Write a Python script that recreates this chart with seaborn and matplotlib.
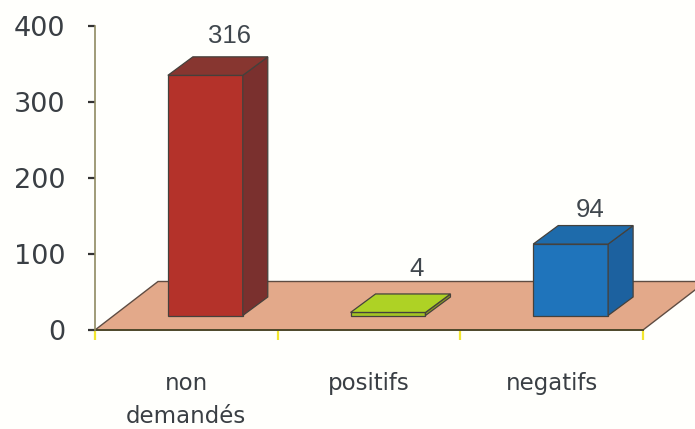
import matplotlib
matplotlib.use("Agg")
import matplotlib.pyplot as plt
from matplotlib.patches import Polygon
import seaborn as sns

categories = ["non\ndemandés", "positifs", "negatifs"]
values = [316, 4, 94]
y_ticks = [0, 100, 200, 300, 400]

front_colors = ["#b4322a", "#a4c424", "#1f74bb"]
side_colors = ["#7a302e", "#8a9c22", "#1c619f"]
top_colors = ["#873630", "#aed225", "#1e6bab"]
floor_color = "#e3a98a"
edge_color = "#45413c"
label_gaps = [14, 18, 9]
label_nudges = [-1, 4, -6]

sns.set_theme(style="white")
plt.rcParams["font.family"] = ["DejaVu Sans"]

W, H = 695, 429
fig = plt.figure(figsize=(W / 100, H / 100), dpi=100, facecolor="#fffffc")
# axes span: x 95..643 px, y 26..330 px from the top
ax = fig.add_axes([95 / W, 1 - 330 / H, 548 / W, 304 / H], facecolor="none")

sns.barplot(x=list(range(3)), y=values, hue=list(range(3)), palette=front_colors,
            width=0.41, legend=False, ax=ax, zorder=3,
            edgecolor=edge_color, linewidth=0.9, saturation=1)
bars = sorted(ax.patches, key=lambda p: p.get_x())
ax.set_xlim(-0.5, 2.5)
ax.set_ylim(0, 400)

# pixel sizes converted to data units for the oblique projection
px_x = 3 / 548
px_y = 400 / 304
shift_x, shift_y = 19 * px_x, 14.5 * px_y
depth_x, depth_y = 25 * px_x, 18.5 * px_y
floor_x, floor_y = 63 * px_x, 48.5 * px_y

ax.add_patch(Polygon([(-0.5, 0), (2.5, 0), (2.5 + floor_x, floor_y), (-0.5 + floor_x, floor_y)],
                     facecolor=floor_color, edgecolor="#5f4c42", linewidth=1.0,
                     zorder=1, clip_on=False))

for bar, value, side, top, gap, nudge in zip(bars, values, side_colors, top_colors, label_gaps, label_nudges):
    bar.set_x(bar.get_x() + shift_x)
    bar.set_y(shift_y)
    x0, x1 = bar.get_x(), bar.get_x() + bar.get_width()
    y0, y1 = shift_y, shift_y + value
    ax.add_patch(Polygon([(x1, y0), (x1 + depth_x, y0 + depth_y), (x1 + depth_x, y1 + depth_y), (x1, y1)],
                         facecolor=side, edgecolor=edge_color, linewidth=0.9, zorder=3, clip_on=False))
    ax.add_patch(Polygon([(x0, y1), (x1, y1), (x1 + depth_x, y1 + depth_y), (x0 + depth_x, y1 + depth_y)],
                         facecolor=top, edgecolor=edge_color, linewidth=0.9, zorder=3, clip_on=False))
    ax.text((x0 + x1) / 2 + depth_x + nudge * px_x, y1 + depth_y + gap * px_y, str(value),
            ha="center", va="baseline", fontsize=18.5, color="#40474d",
            family="Liberation Sans", zorder=5)

sns.despine(ax=ax)
ax.spines["left"].set_color("#8f8a62")
ax.spines["left"].set_linewidth(1.2)
ax.spines["bottom"].set_color("#4f4a2c")
ax.spines["bottom"].set_linewidth(1.4)
ax.spines["bottom"].set_zorder(2)

ax.set_yticks(y_ticks)
ax.tick_params(axis="y", left=True, length=5, width=1.6, color="#333333",
               pad=16.5, labelsize=19.5, labelcolor="#3a3f44")
ax.set_xticks([-0.5, 0.5, 1.5, 2.5], minor=True)
ax.set_xticks([0, 1, 2])
ax.set_xticklabels(categories, linespacing=1.6)
ax.tick_params(axis="x", which="minor", bottom=True, length=7, width=1.6, color="#f2e62e")
ax.tick_params(axis="x", which="major", bottom=False, pad=24, labelsize=16.5, labelcolor="#3a3f44")
ax.set_xlabel("")
ax.set_ylabel("")

fig.savefig("out.png", dpi=100, facecolor=fig.get_facecolor())
